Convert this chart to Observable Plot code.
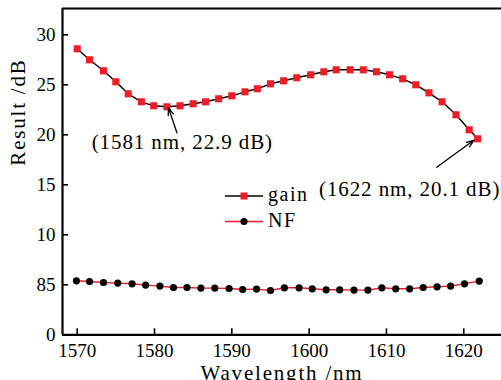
<!DOCTYPE html>
<html><head><meta charset="utf-8">
<script src="https://cdn.jsdelivr.net/npm/d3@7"></script>
<script src="https://cdn.jsdelivr.net/npm/@observablehq/plot@0.6"></script>
<style>
html,body{margin:0;padding:0;background:#fff;overflow:hidden;}
#wrap{position:relative;width:501px;height:380px;overflow:hidden;}
#legend{position:absolute;left:222px;top:184px;}
</style></head><body><div id="wrap"></div>
<script>
// ---- data ----
const gainWl = [1570, 1571.6, 1573.4, 1575.0, 1576.6, 1578.3, 1579.9, 1581.6, 1583.3, 1585.0, 1586.6, 1588.3, 1590.0, 1591.7, 1593.3, 1595.0, 1596.7, 1598.4, 1600.2, 1601.9, 1603.5, 1605.3, 1607.0, 1608.7, 1610.4, 1612.1, 1613.8, 1615.5, 1617.2, 1619.0, 1620.7, 1621.8];
const gainDb = [28.6, 27.5, 26.4, 25.3, 24.1, 23.3, 22.9, 22.8, 22.9, 23.1, 23.3, 23.6, 23.9, 24.3, 24.6, 25.1, 25.4, 25.7, 26.0, 26.3, 26.5, 26.5, 26.5, 26.3, 26.0, 25.6, 25.0, 24.2, 23.3, 22.0, 20.5, 19.6];
const nfWl = [1569.9, 1571.6, 1573.4, 1575.25, 1577.1, 1578.85, 1580.7, 1582.45, 1584.2, 1586.0, 1587.8, 1589.65, 1591.4, 1593.2, 1595.0, 1596.8, 1598.7, 1600.4, 1602.2, 1603.95, 1605.8, 1607.6, 1609.4, 1611.2, 1613.0, 1614.75, 1616.55, 1618.3, 1620.1, 1622.0];
const nfDb = [5.4, 5.33, 5.23, 5.17, 5.1, 4.97, 4.87, 4.73, 4.73, 4.67, 4.67, 4.63, 4.53, 4.57, 4.43, 4.7, 4.7, 4.6, 4.5, 4.5, 4.47, 4.47, 4.7, 4.6, 4.6, 4.73, 4.8, 4.87, 5.1, 5.37];
const xTicks = [1570, 1580, 1590, 1600, 1610, 1620];
const yTicks = [0, 5, 10, 15, 20, 25, 30];
const yTickLabels = ["0", "85", "10", "15", "20", "25", "30"];
const seriesNames = ["gain", "NF"];
const annLabels = ["(1581 nm, 22.9 dB)", "(1622 nm, 20.1 dB)"];
const annTextX = [1583.6, 1613.0];
const annTextY = [19.26, 14.6];
const annFromX = [1582.9, 1616.5];
const annFromY = [20.2, 16.76];
const annToX = [1581.8, 1621.3];
const annToY = [22.7, 19.45];
const xTitle = "Wavelength /nm";
const yTitle = "Result /dB";

const RED = "#ee1c25";
const gain = gainWl.map((x, i) => ({x, y: gainDb[i]}));
const nf = nfWl.map((x, i) => ({x, y: nfDb[i]}));
const ann = annLabels.map((t, i) => ({t, tx: annTextX[i], ty: annTextY[i], x1: annFromX[i], y1: annFromY[i], x2: annToX[i], y2: annToY[i]}));
const yLab = new Map(yTicks.map((d, i) => [d, yTickLabels[i]]));

const W = 501, H = 392, axisY0 = 334.3, mL = 62, mT = 8;
const frameH = axisY0 - mT, frameW = W - mL;
const FONT = "Liberation Serif, Times New Roman, serif";

const chart = Plot.plot({
  width: W, height: H,
  marginLeft: mL, marginRight: 0, marginTop: mT, marginBottom: H - axisY0,
  x: {domain: [1568.1, 1624.88]},
  y: {domain: [0, 32.63]},
  style: {fontFamily: FONT, fontSize: "19px", color: "#000", background: "#fff", overflow: "visible"},
  marks: [
    Plot.axisX(xTicks, {tickSize: 0, tickPadding: 9, fontSize: 19, label: null, tickFormat: d => String(d)}),
    Plot.axisY(yTicks, {tickSize: 0, tickPadding: 7, fontSize: 19, label: null, tickFormat: d => yLab.get(d)}),
    Plot.tickX(xTicks, {x: d => d, insetTop: frameH - 6, strokeWidth: 1.6, stroke: "#000"}),
    Plot.tickY(yTicks, {y: d => d, insetRight: frameW - 6, strokeWidth: 1.6, stroke: "#000"}),
    Plot.ruleX([1568.1], {strokeWidth: 2.2, stroke: "#000"}),
    Plot.ruleY([0], {strokeWidth: 2.2, stroke: "#000"}),
    Plot.ruleY([32.63], {strokeWidth: 2.2, stroke: "#000"}),
    Plot.line(gain, {x: "x", y: "y", stroke: "#000", strokeWidth: 1.4}),
    Plot.dot(gain, {x: "x", y: "y", symbol: "square", r: 4, fill: RED, stroke: "none"}),
    Plot.line(nf, {x: "x", y: "y", stroke: RED, strokeWidth: 1.4}),
    Plot.dot(nf, {x: "x", y: "y", r: 3.6, fill: "#000", stroke: "none"}),
    Plot.arrow(ann, {x1: "x1", y1: "y1", x2: "x2", y2: "y2", stroke: "#000", strokeWidth: 1.3, headLength: 9, headAngle: 40}),
    Plot.text(ann, {x: "tx", y: "ty", text: "t", fontSize: 21, fill: "#000"}),
    Plot.text([xTitle], {text: d => d, frameAnchor: "bottom", dy: 45, fontSize: 21, fill: "#000"}),
    Plot.text([yTitle], {text: d => d, frameAnchor: "left", rotate: -90, dx: -44, dy: -6, fontSize: 21, fill: "#000"})
  ]
});
const wrap = document.getElementById("wrap");
wrap.appendChild(chart);

// per-text letter spacing (CM-like wider set)
d3.select(chart).selectAll('g[aria-label="text"] text').each(function () {
  const t = this.textContent;
  if (annLabels.includes(t)) this.setAttribute("letter-spacing", "0.9px");
  else if (t === xTitle || t === yTitle) this.setAttribute("letter-spacing", "1.8px");
});

// legend overlay
const leg = d3.select(wrap).append("svg").attr("id", "legend").attr("width", 110).attr("height", 54)
  .style("font-family", FONT);
const rows = [
  {name: seriesNames[0], line: "#000", mark: "square", fill: RED, y: 12},
  {name: seriesNames[1], line: RED, mark: "circle", fill: "#000", y: 37.5}
];
rows.forEach(r => {
  leg.append("line").attr("x1", 3).attr("x2", 41).attr("y1", r.y).attr("y2", r.y).attr("stroke", r.line).attr("stroke-width", 1.4);
  if (r.mark === "square") leg.append("rect").attr("x", 22 - 3.5).attr("y", r.y - 3.5).attr("width", 7).attr("height", 7).attr("fill", r.fill);
  else leg.append("circle").attr("cx", 22).attr("cy", r.y).attr("r", 3.6).attr("fill", r.fill);
  leg.append("text").attr("x", 46).attr("y", r.y + 5).attr("font-size", 20).attr("letter-spacing", "1.5px").text(r.name);
});
</script>
</body></html>
